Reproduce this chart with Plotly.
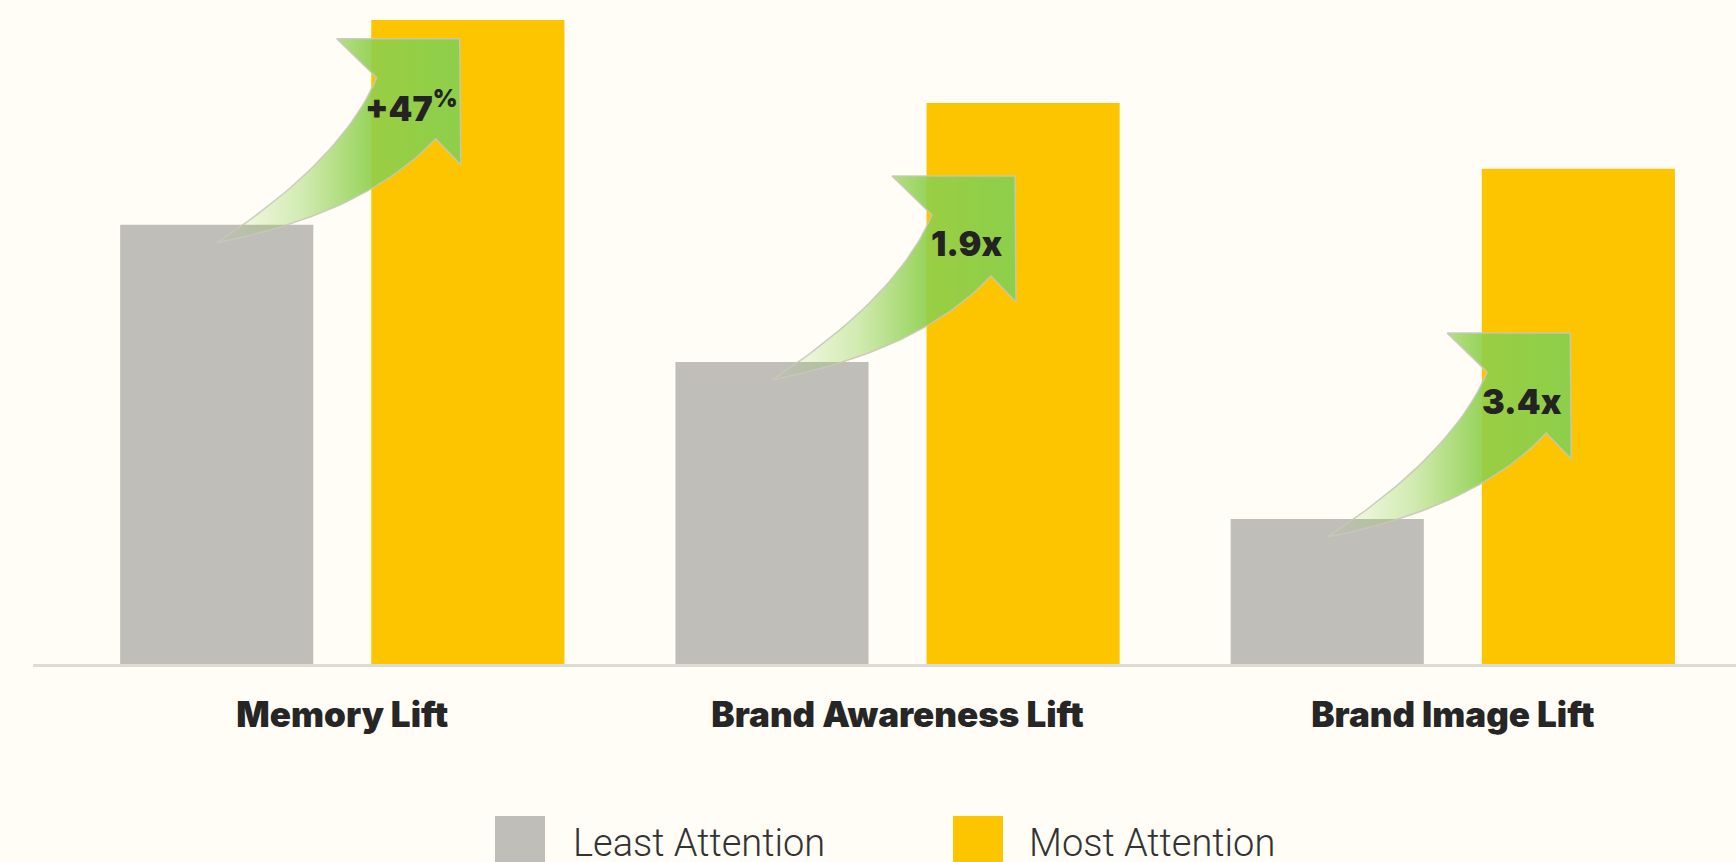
import plotly.graph_objects as go

categories = ["Memory Lift", "Brand Awareness Lift", "Brand Image Lift"]
least_attention = [68.2, 46.9, 22.5]
most_attention = [100.0, 87.1, 76.9]
lift_labels = ["+47<sup>%</sup>", "1.9x", "3.4x"]
series_names = ["Least Attention", "Most Attention"]

BG = "#fffdf6"
GRAY = "#bfbeb8"
GOLD = "#fdc400"
GREEN = "141,207,75"
HEAVY = "Inter, Roboto, sans-serif"

W, H = 1736, 862
ML, MR, MT, MB = 33, 0, 20, 198
XR = [-0.557, 2.51]
YR = [0, 100]
PW, PH = W - ML - MR, H - MT - MB
xs = PW / (XR[1] - XR[0])   # px per x unit
ys = PH / (YR[1] - YR[0])   # px per y unit

BARGAP, GROUPGAP = 0.0955, 0.231
slot = (1 - BARGAP) / 2
idx = list(range(len(categories)))

fig = go.Figure()
fig.add_trace(go.Bar(x=idx, y=least_attention, name=series_names[0], marker_color=GRAY,
                     marker_line_width=0, showlegend=False, hoverinfo="skip"))
fig.add_trace(go.Bar(x=idx, y=most_attention, name=series_names[1], marker_color=GOLD,
                     marker_line_width=0, showlegend=False, hoverinfo="skip"))


def bez(p0, c, p1, n=30):
    pts = []
    for i in range(n + 1):
        t = i / n
        a, b, d = (1 - t) ** 2, 2 * t * (1 - t), t ** 2
        pts.append((a * p0[0] + b * c[0] + d * p1[0], a * p0[1] + b * c[1] + d * p1[1]))
    return pts

# arrow outline in pixel offsets from the tail (y up)
shape_px = (bez((0, 0), (125, 82), (160, 165))
            + [(120, 204), (243, 204), (244, 78), (219, 104)]
            + bez((219, 104), (150, 30), (0, 0)))

annotations = []
for i in idx:
    tx = i - slot / 2
    ty = least_attention[i] - 18 / ys
    ax = [tx + p[0] / xs for p in shape_px]
    ay = [ty + p[1] / ys for p in shape_px]
    fig.add_trace(go.Scatter(
        x=ax, y=ay, mode="lines", fill="toself",
        line=dict(color="rgba(200,200,185,0.9)", width=1.5),
        fillgradient=dict(type="horizontal", colorscale=[
            [0, f"rgba({GREEN},0.0)"], [0.35, f"rgba({GREEN},0.4)"],
            [0.62, f"rgba({GREEN},0.88)"], [1, f"rgba({GREEN},1)"]]),
        showlegend=False, hoverinfo="skip"))
    annotations.append(dict(
        x=tx + 195 / xs, y=ty + 136 / ys, xref="x", yref="y", text=lift_labels[i],
        showarrow=False, font=dict(family=HEAVY, size=34, color="#232323", weight=900)))


def px2paper(px, py):
    return (px - ML) / PW, (H - MB - py) / PH

colors = [GRAY, GOLD]
sq_left = [495, 953]
txt_left = [571, 1027]
shapes = []
for k in range(2):
    x0, y0 = px2paper(sq_left[k], 816)
    x1, y1 = px2paper(sq_left[k] + 50, 880)
    shapes.append(dict(type="rect", xref="paper", yref="paper", x0=x0, x1=x1, y0=y1, y1=y0,
                       fillcolor=colors[k], line_width=0))
    tx, ty = px2paper(txt_left[k], 843)
    annotations.append(dict(x=tx, y=ty, xref="paper", yref="paper", xanchor="left",
                            yanchor="middle", text=series_names[k], showarrow=False,
                            font=dict(family="Roboto", size=38, color="#333333", weight=300)))

fig.update_layout(
    width=W, height=H, margin=dict(l=ML, r=MR, t=MT, b=MB),
    paper_bgcolor=BG, plot_bgcolor=BG,
    barmode="group", bargap=BARGAP, bargroupgap=GROUPGAP,
    shapes=shapes, annotations=annotations, showlegend=False,
)
fig.update_xaxes(range=XR, tickvals=idx, ticktext=categories, showline=True,
                 linecolor="#dedbd3", linewidth=3, showgrid=False, zeroline=False,
                 ticks="", ticklabelstandoff=18,
                 tickfont=dict(family=HEAVY, size=35, color="#262626", weight=900))
fig.update_yaxes(range=YR, visible=False)

fig.write_html("out.html", config={"displayModeBar": False}, post_script=(
    "document.body.style.margin='0';"
    "document.body.style.background='" + BG + "';"))
